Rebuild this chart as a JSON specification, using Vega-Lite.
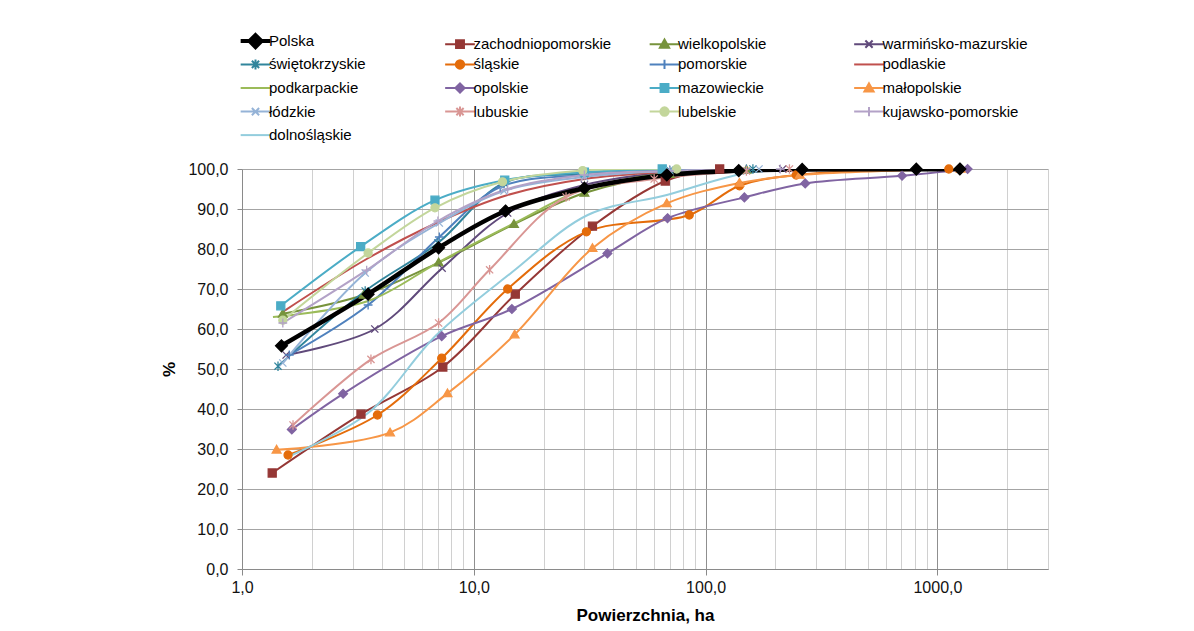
{
  "$schema": "https://vega.github.io/schema/vega-lite/v6.json",
  "width": 806,
  "height": 400,
  "autosize": {"type": "none"},
  "padding": {"left": 242, "top": 169, "right": 146, "bottom": 62},
  "background": "white",
  "config": {
    "view": {"stroke": null},
    "font": "Liberation Sans",
    "axis": {"labelFont": "Liberation Sans", "titleFont": "Liberation Sans", "labelColor": "#111111", "titleColor": "#000000", "domainColor": "#8a8a8a", "tickColor": "#8a8a8a"}
  },
  "datasets": {
    "pts": [
      {"series": "zachodniopomorskie", "x": 1.35, "y": 24.0},
      {"series": "zachodniopomorskie", "x": 3.26, "y": 38.7},
      {"series": "zachodniopomorskie", "x": 7.35, "y": 50.5},
      {"series": "zachodniopomorskie", "x": 15.1, "y": 68.7},
      {"series": "zachodniopomorskie", "x": 32.5, "y": 85.7},
      {"series": "zachodniopomorskie", "x": 67, "y": 97.0},
      {"series": "zachodniopomorskie", "x": 115, "y": 100.0},
      {"series": "wielkopolskie", "x": 1.5, "y": 63.8},
      {"series": "wielkopolskie", "x": 3.35, "y": 68.5},
      {"series": "wielkopolskie", "x": 7.05, "y": 76.6},
      {"series": "wielkopolskie", "x": 14.9, "y": 86.2},
      {"series": "wielkopolskie", "x": 30, "y": 94.0},
      {"series": "wielkopolskie", "x": 70, "y": 98.7},
      {"series": "wielkopolskie", "x": 150, "y": 99.8},
      {"series": "warmińsko-mazurskie", "x": 1.55, "y": 53.5},
      {"series": "warmińsko-mazurskie", "x": 3.74, "y": 60.0},
      {"series": "warmińsko-mazurskie", "x": 7.3, "y": 75.2},
      {"series": "warmińsko-mazurskie", "x": 14, "y": 89.0},
      {"series": "warmińsko-mazurskie", "x": 30, "y": 96.0},
      {"series": "warmińsko-mazurskie", "x": 70, "y": 99.2},
      {"series": "warmińsko-mazurskie", "x": 215, "y": 100.0},
      {"series": "świętokrzyskie", "x": 1.43, "y": 50.7},
      {"series": "świętokrzyskie", "x": 3.4, "y": 69.5},
      {"series": "świętokrzyskie", "x": 7.0, "y": 81.5},
      {"series": "świętokrzyskie", "x": 13.5, "y": 96.5},
      {"series": "świętokrzyskie", "x": 30, "y": 98.8},
      {"series": "świętokrzyskie", "x": 70, "y": 99.7},
      {"series": "świętokrzyskie", "x": 160, "y": 100.0},
      {"series": "śląskie", "x": 1.58, "y": 28.5},
      {"series": "śląskie", "x": 3.84, "y": 38.5},
      {"series": "śląskie", "x": 7.27, "y": 52.7},
      {"series": "śląskie", "x": 14, "y": 70.0},
      {"series": "śląskie", "x": 30.6, "y": 84.3},
      {"series": "śląskie", "x": 85, "y": 88.5},
      {"series": "śląskie", "x": 140, "y": 95.8},
      {"series": "śląskie", "x": 246, "y": 98.5},
      {"series": "śląskie", "x": 1120, "y": 100.0},
      {"series": "pomorskie", "x": 1.6, "y": 53.5},
      {"series": "pomorskie", "x": 3.5, "y": 66.0},
      {"series": "pomorskie", "x": 7.1, "y": 83.0},
      {"series": "pomorskie", "x": 13, "y": 95.5},
      {"series": "pomorskie", "x": 30, "y": 98.5},
      {"series": "pomorskie", "x": 70, "y": 99.6},
      {"series": "pomorskie", "x": 150, "y": 100.0},
      {"series": "podlaskie", "x": 1.5, "y": 64.3},
      {"series": "podlaskie", "x": 3.45, "y": 77.5},
      {"series": "podlaskie", "x": 6.9, "y": 86.5},
      {"series": "podlaskie", "x": 14, "y": 93.5},
      {"series": "podlaskie", "x": 30, "y": 97.5},
      {"series": "podlaskie", "x": 70, "y": 99.3},
      {"series": "podlaskie", "x": 150, "y": 100.0},
      {"series": "podkarpackie", "x": 1.36, "y": 63.0},
      {"series": "podkarpackie", "x": 3.5, "y": 67.0},
      {"series": "podkarpackie", "x": 7.1, "y": 76.8},
      {"series": "podkarpackie", "x": 15, "y": 86.5},
      {"series": "podkarpackie", "x": 30, "y": 95.0},
      {"series": "podkarpackie", "x": 70, "y": 99.0},
      {"series": "podkarpackie", "x": 150, "y": 100.0},
      {"series": "opolskie", "x": 1.64, "y": 34.9},
      {"series": "opolskie", "x": 2.73, "y": 43.8},
      {"series": "opolskie", "x": 7.27, "y": 58.2},
      {"series": "opolskie", "x": 14.6, "y": 65.0},
      {"series": "opolskie", "x": 37.7, "y": 78.9},
      {"series": "opolskie", "x": 68.5, "y": 87.7},
      {"series": "opolskie", "x": 147, "y": 92.9},
      {"series": "opolskie", "x": 269, "y": 96.4},
      {"series": "opolskie", "x": 704, "y": 98.3},
      {"series": "opolskie", "x": 1350, "y": 100.0},
      {"series": "mazowieckie", "x": 1.47, "y": 65.8},
      {"series": "mazowieckie", "x": 3.25, "y": 80.6},
      {"series": "mazowieckie", "x": 6.8, "y": 92.2},
      {"series": "mazowieckie", "x": 13.6, "y": 97.2},
      {"series": "mazowieckie", "x": 30, "y": 99.2},
      {"series": "mazowieckie", "x": 65, "y": 100.0},
      {"series": "małopolskie", "x": 1.41, "y": 29.8},
      {"series": "małopolskie", "x": 4.35, "y": 34.1},
      {"series": "małopolskie", "x": 7.7, "y": 43.9},
      {"series": "małopolskie", "x": 15, "y": 58.6},
      {"series": "małopolskie", "x": 32.5, "y": 80.2},
      {"series": "małopolskie", "x": 68, "y": 91.4},
      {"series": "małopolskie", "x": 140, "y": 96.5},
      {"series": "małopolskie", "x": 255, "y": 98.5},
      {"series": "małopolskie", "x": 1260, "y": 100.0},
      {"series": "łódzkie", "x": 1.5, "y": 51.5},
      {"series": "łódzkie", "x": 3.4, "y": 74.0},
      {"series": "łódzkie", "x": 7.1, "y": 86.5},
      {"series": "łódzkie", "x": 13.5, "y": 94.5},
      {"series": "łódzkie", "x": 30, "y": 98.0},
      {"series": "łódzkie", "x": 70, "y": 99.5},
      {"series": "łódzkie", "x": 170, "y": 100.0},
      {"series": "lubuskie", "x": 1.66, "y": 36.0},
      {"series": "lubuskie", "x": 3.6, "y": 52.4},
      {"series": "lubuskie", "x": 7.05, "y": 61.5},
      {"series": "lubuskie", "x": 11.7, "y": 74.8},
      {"series": "lubuskie", "x": 25, "y": 93.0},
      {"series": "lubuskie", "x": 60, "y": 97.5},
      {"series": "lubuskie", "x": 150, "y": 99.5},
      {"series": "lubuskie", "x": 230, "y": 100.0},
      {"series": "lubelskie", "x": 1.5, "y": 62.2},
      {"series": "lubelskie", "x": 3.5, "y": 79.0},
      {"series": "lubelskie", "x": 6.8, "y": 90.3},
      {"series": "lubelskie", "x": 13.3, "y": 96.8},
      {"series": "lubelskie", "x": 29.5, "y": 99.6},
      {"series": "lubelskie", "x": 75, "y": 100.0},
      {"series": "kujawsko-pomorskie", "x": 1.5, "y": 61.5},
      {"series": "kujawsko-pomorskie", "x": 3.45, "y": 74.7},
      {"series": "kujawsko-pomorskie", "x": 7.0, "y": 87.0},
      {"series": "kujawsko-pomorskie", "x": 14, "y": 95.0},
      {"series": "kujawsko-pomorskie", "x": 30, "y": 98.5},
      {"series": "kujawsko-pomorskie", "x": 70, "y": 99.5},
      {"series": "kujawsko-pomorskie", "x": 210, "y": 100.0},
      {"series": "dolnośląskie", "x": 1.53, "y": 27.7},
      {"series": "dolnośląskie", "x": 3.5, "y": 39.0},
      {"series": "dolnośląskie", "x": 6.9, "y": 58.5},
      {"series": "dolnośląskie", "x": 14.7, "y": 74.3},
      {"series": "dolnośląskie", "x": 31, "y": 88.5},
      {"series": "dolnośląskie", "x": 68, "y": 93.5},
      {"series": "dolnośląskie", "x": 150, "y": 99.0},
      {"series": "dolnośląskie", "x": 300, "y": 100.0},
      {"series": "Polska", "x": 1.48, "y": 55.8},
      {"series": "Polska", "x": 3.5, "y": 68.7},
      {"series": "Polska", "x": 7.05, "y": 80.3},
      {"series": "Polska", "x": 13.7, "y": 89.5},
      {"series": "Polska", "x": 30, "y": 95.2},
      {"series": "Polska", "x": 68, "y": 98.5},
      {"series": "Polska", "x": 139, "y": 99.6},
      {"series": "Polska", "x": 261, "y": 99.9},
      {"series": "Polska", "x": 811, "y": 99.95},
      {"series": "Polska", "x": 1250, "y": 100.0}
    ]
  },
  "data": {"name": "pts"},
  "encoding": {
    "x": {
      "field": "x", "type": "quantitative",
      "scale": {"type": "log", "domain": [1, 3000], "nice": false},
      "axis": {
        "title": "Powierzchnia, ha",
        "titleFontSize": 17, "titleFontWeight": "bold", "titlePadding": 12,
        "values": [1,2,3,4,5,6,7,8,9,10,20,30,40,50,60,70,80,90,100,200,300,400,500,600,700,800,900,1000,2000,3000],
        "labelExpr": "indexof([1,10,100,1000], datum.value) >= 0 ? replace(format(datum.value, '.1f'), '.', ',') : ''",
        "labelFontSize": 16, "labelOverlap": false, "labelPadding": 4, "labelFlush": false,
        "grid": true,
        "gridColor": {"condition": {"test": "indexof([10,100,1000], datum.value) >= 0", "value": "#8f8f8f"}, "value": "#d0d0d0"},
        "tickSize": {"condition": {"test": "indexof([1,10,100,1000], datum.value) >= 0", "value": 6}, "value": 0}
      }
    },
    "y": {
      "field": "y", "type": "quantitative",
      "scale": {"domain": [0, 100], "nice": false},
      "axis": {
        "title": "%", "titleFontSize": 17, "titleFontWeight": "bold", "titlePadding": 9,
        "values": [0,10,20,30,40,50,60,70,80,90,100],
        "labelExpr": "replace(format(datum.value, '.1f'), '.', ',')",
        "labelFontSize": 16, "labelPadding": 9, "tickSize": 5, "labelFlush": false,
        "grid": true, "gridColor": "#a4a4a4"
      }
    },
    "color": {
      "field": "series", "type": "nominal",
      "scale": {
        "domain": ["Polska","zachodniopomorskie","wielkopolskie","warmińsko-mazurskie","świętokrzyskie","śląskie","pomorskie","podlaskie","podkarpackie","opolskie","mazowieckie","małopolskie","łódzkie","lubuskie","lubelskie","kujawsko-pomorskie","dolnośląskie"],
        "range": ["#000000","#953735","#77933C","#604A7B","#31859C","#E46C0A","#4F81BD","#C0504D","#9BBB59","#8064A2","#4BACC6","#F79646","#95B3D7","#D99694","#C3D69B","#B3A2C7","#93CDDD"]
      },
      "legend": {
        "title": null,
        "orient": "none", "legendX": 6, "legendY": -135.6,
        "direction": "horizontal",
        "columns": 4, "gridAlign": "all", "columnPadding": 25.5, "rowPadding": -0.45,
        "padding": 0,
        "symbolSize": 484, "labelOffset": 6,
        "labelFont": "Liberation Sans", "labelFontSize": 15, "labelColor": "#000000", "labelLimit": 220,
        "encode": {
          "symbols": {
            "update": {
              "shape": {"signal": "['M-1.35,0H1.35M0,-0.55L0.55,0L0,0.55L-0.55,0Z','M-1.35,0H1.35M-0.36,-0.36H0.36V0.36H-0.36Z','M-1.35,0H1.35M0,-0.42L0.42,0.32L-0.42,0.32Z','M-1.35,0H1.35M-0.33,-0.33L0.33,0.33M-0.33,0.33L0.33,-0.33','M-1.35,0H1.35M-0.33,-0.33L0.33,0.33M-0.33,0.33L0.33,-0.33M0,-0.45V0.45','M-1.35,0H1.35M0.38,0A0.38,0.38 0 1,1 -0.38,0A0.38,0.38 0 1,1 0.38,0','M-1.35,0H1.35M0,-0.42V0.42','M-1.35,0H1.35','M-1.35,0H1.35','M-1.35,0H1.35M0,-0.42L0.42,0L0,0.42L-0.42,0Z','M-1.35,0H1.35M-0.36,-0.36H0.36V0.36H-0.36Z','M-1.35,0H1.35M0,-0.42L0.42,0.32L-0.42,0.32Z','M-1.35,0H1.35M-0.33,-0.33L0.33,0.33M-0.33,0.33L0.33,-0.33','M-1.35,0H1.35M-0.33,-0.33L0.33,0.33M-0.33,0.33L0.33,-0.33M0,-0.45V0.45','M-1.35,0H1.35M0.38,0A0.38,0.38 0 1,1 -0.38,0A0.38,0.38 0 1,1 0.38,0','M-1.35,0H1.35M0,-0.42V0.42','M-1.35,0H1.35'][indexof(['Polska','zachodniopomorskie','wielkopolskie','warmińsko-mazurskie','świętokrzyskie','śląskie','pomorskie','podlaskie','podkarpackie','opolskie','mazowieckie','małopolskie','łódzkie','lubuskie','lubelskie','kujawsko-pomorskie','dolnośląskie'], datum.value)]"},
              "fill": {"scale": "color", "field": "value"},
              "stroke": {"scale": "color", "field": "value"},
              "strokeWidth": {"signal": "datum.value === 'Polska' ? 4 : 2"},
              "fillOpacity": {"value": 1},
              "strokeOpacity": {"value": 1},
              "opacity": {"value": 1}
            }
          }
        }
      }
    }
  },
  "layer": [
    {
      "mark": {"type": "line", "interpolate": "catmull-rom", "clip": true},
      "encoding": {
        "strokeWidth": {"condition": {"test": "datum.series === 'Polska'", "value": 4.5}, "value": 2}
      }
    },
    {
      "transform": [{"filter": "indexof(['podlaskie','podkarpackie','dolnośląskie'], datum.series) < 0"}],
      "mark": {"type": "point", "filled": true, "opacity": 1, "strokeWidth": 1.3},
      "encoding": {
        "shape": {
          "field": "series", "type": "nominal", "legend": null,
          "scale": {
            "domain": ["Polska","zachodniopomorskie","wielkopolskie","warmińsko-mazurskie","świętokrzyskie","śląskie","pomorskie","opolskie","mazowieckie","małopolskie","łódzkie","lubuskie","lubelskie","kujawsko-pomorskie"],
            "range": ["M0,-1L1,0L0,1L-1,0Z","M-1,-1H1V1H-1Z","M0,-1.1L1.1,0.8L-1.1,0.8Z","M-0.9,-0.9L0.9,0.9M-0.9,0.9L0.9,-0.9","M-0.9,-0.9L0.9,0.9M-0.9,0.9L0.9,-0.9M0,-1.2V1.2","circle","M-1.1,0H1.1M0,-1.1V1.1","M0,-1.1L1.1,0L0,1.1L-1.1,0Z","M-1,-1H1V1H-1Z","M0,-1.1L1.1,0.8L-1.1,0.8Z","M-0.9,-0.9L0.9,0.9M-0.9,0.9L0.9,-0.9","M-0.9,-0.9L0.9,0.9M-0.9,0.9L0.9,-0.9M0,-1.2V1.2","circle","M-1.1,0H1.1M0,-1.1V1.1"]
          }
        },
        "stroke": {
          "field": "series", "type": "nominal", "legend": null,
          "scale": {
            "domain": ["Polska","zachodniopomorskie","wielkopolskie","warmińsko-mazurskie","świętokrzyskie","śląskie","pomorskie","podlaskie","podkarpackie","opolskie","mazowieckie","małopolskie","łódzkie","lubuskie","lubelskie","kujawsko-pomorskie","dolnośląskie"],
            "range": ["#000000","#953735","#77933C","#604A7B","#31859C","#E46C0A","#4F81BD","#C0504D","#9BBB59","#8064A2","#4BACC6","#F79646","#95B3D7","#D99694","#C3D69B","#B3A2C7","#93CDDD"]
          }
        },
        "size": {"condition": {"test": "datum.series === 'Polska'", "value": 140}, "value": 64}
      }
    }
  ]
}
